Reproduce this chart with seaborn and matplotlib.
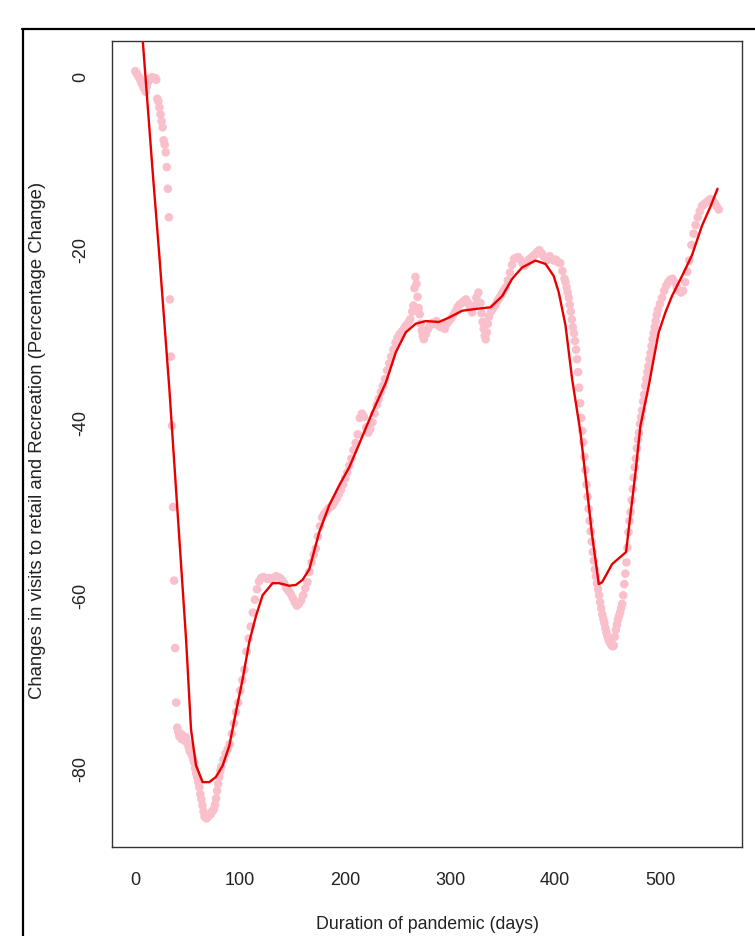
import matplotlib
matplotlib.use("Agg")
import matplotlib.pyplot as plt
from matplotlib.lines import Line2D
import seaborn as sns
import pandas as pd

# ---- observed daily points (day, percentage change) ----
days = [0, 1, 2, 3, 4, 5, 6, 7, 8, 9, 10, 11, 12, 13, 14, 15, 16, 17, 18, 19, 20,
        21, 22, 23, 24, 25, 26, 27, 28, 29, 30, 31, 32, 33, 34, 35, 36, 37, 38, 39,
        40, 41, 42, 43, 44, 45, 46, 47, 48, 49, 50, 51, 52, 53, 54, 55, 56, 57, 58, 59,
        60, 61, 62, 63, 64, 65, 66, 67, 68, 69, 70, 71, 72, 73, 74, 75, 76, 77, 78, 79,
        80, 81, 82, 84, 86, 88, 90, 92, 94, 96, 98, 100, 102, 104, 106, 108, 110, 112,
        114, 116, 118, 120, 122, 124, 126, 128, 130, 132, 134, 136, 138, 140, 142, 144,
        146, 148, 150, 152, 154, 156, 158, 160, 162, 164, 166, 168, 170, 172, 174, 176,
        178, 180, 182, 184, 186, 188, 190, 192, 194, 196, 198, 200, 202, 204, 206, 208,
        210, 212, 214, 216, 218, 220, 222, 224, 226, 228, 230, 232, 234, 236, 238, 240,
        242, 244, 246, 248, 250, 252, 254, 256, 258, 260, 262, 264, 265, 266, 267, 268,
        269, 270, 271, 272, 273, 274, 275, 277, 279, 281, 283, 285, 287, 289, 291, 293,
        295, 297, 299, 301, 303, 305, 307, 309, 311, 313, 315, 317, 319, 321, 323, 325,
        327, 329, 330, 331, 332, 333, 334, 335, 336, 337, 339, 341, 343, 345, 347, 349,
        351, 353, 355, 357, 359, 361, 363, 365, 367, 369, 371, 373, 375, 377, 379, 381,
        383, 385, 387, 389, 391, 393, 395, 397, 399, 401, 403, 405, 407, 409, 410, 411,
        412, 413, 414, 415, 416, 417, 418, 419, 420, 421, 422, 423, 424, 425, 426, 427,
        428, 429, 430, 431, 432, 433, 434, 435, 436, 437, 438, 439, 440, 441, 442, 443,
        444, 445, 446, 447, 448, 449, 450, 451, 452, 453, 454, 455, 456, 457, 458, 459,
        460, 461, 462, 463, 464, 465, 466, 467, 468, 469, 470, 471, 472, 473, 474, 475,
        476, 477, 478, 479, 480, 481, 482, 483, 484, 485, 486, 487, 488, 489, 490, 491,
        492, 493, 494, 495, 496, 497, 498, 500, 502, 504, 506, 508, 510, 512, 514, 516,
        518, 520, 522, 524, 526, 528, 530, 532, 534, 536, 538, 540, 542, 544, 546, 548,
        550, 552, 554, 556]
changes = [0.6, 0.4, 0.2, 0.0, -0.2, -0.5, -0.8, -1.0, -1.3, -1.5, -1.8, -1.2, -0.7, -0.4,
           -0.3, -0.2, -0.1, -0.2, -0.3, -0.2, -0.4,
           -2.6, -2.9, -3.6, -4.4, -5.2, -5.9, -7.4, -7.9, -8.8, -10.5, -13.0, -16.3, -25.8,
           -32.4, -40.4, -49.8, -58.3, -66.1, -72.4,
           -75.3, -75.8, -76.3, -76.0, -76.6, -76.2, -76.5, -76.8, -76.4, -76.9, -77.2, -77.6,
           -78.0, -78.2, -78.5, -78.9, -79.3, -80.0, -80.6, -81.0,
           -81.6, -82.2, -83.0, -83.6, -84.3, -85.0, -85.6, -85.7, -85.8, -85.6, -85.5, -85.4,
           -85.3, -85.0, -84.9, -84.7, -84.2, -83.5, -82.6, -81.8,
           -81.0, -80.3, -79.8, -79.0, -78.3, -77.8, -77.2, -76.0, -74.8, -73.5, -72.4, -71.0,
           -69.8, -68.6, -66.5, -65.0, -63.6, -62.0,
           -60.5, -59.3, -58.4, -58.0, -57.9, -58.0, -58.1, -58.0, -58.2, -58.0, -57.8, -57.9,
           -58.0, -58.3, -58.6, -59.2,
           -59.5, -59.8, -60.3, -60.8, -61.2, -61.0, -60.6, -60.0, -59.2, -58.5, -57.3, -56.2,
           -55.3, -54.6, -53.2, -52.0,
           -51.0, -50.6, -50.3, -50.0, -49.8, -49.6, -49.2, -48.8, -48.3, -47.8, -47.2, -46.5,
           -45.8, -45.0, -44.2, -43.2,
           -42.4, -41.4, -39.5, -39.0, -39.4, -40.6, -41.2, -40.8, -40.0, -39.0, -38.0, -37.3,
           -36.5, -35.8, -35.0, -34.0,
           -33.2, -32.4, -31.6, -30.8, -30.2, -29.8, -29.5, -29.2, -28.8, -28.5, -28.1, -27.2,
           -26.5, -24.5, -23.2, -24.0,
           -25.5, -26.8, -27.5, -28.6, -29.4, -30.0, -30.4, -29.8, -29.2, -28.8, -28.5, -28.6,
           -28.3, -28.8, -29.0, -28.8,
           -29.2, -28.6, -28.3, -28.0, -27.6, -27.2, -26.7, -26.4, -26.2, -26.0, -25.8, -26.2,
           -26.8, -27.3, -26.5, -25.6,
           -25.0, -26.2, -27.4, -28.4, -29.2, -30.0, -30.4, -29.6, -28.6, -27.8, -27.2, -26.8,
           -26.5, -26.0, -25.6, -25.2,
           -24.8, -24.4, -23.6, -22.7, -21.8, -21.1, -21.0, -20.9, -21.2, -21.6, -21.9, -21.6,
           -21.2, -21.0, -20.8, -20.6,
           -20.3, -20.1, -20.4, -20.8, -21.0, -21.2, -20.8, -21.1, -21.3, -21.2, -21.5, -21.6,
           -22.5, -23.4, -23.8, -24.4,
           -25.0, -25.6, -26.4, -27.2, -28.1, -29.0, -29.7, -30.6, -31.6, -32.7, -34.2, -36.0,
           -37.8, -39.5, -41.0, -42.3,
           -44.0, -45.5, -47.2, -48.6, -50.0, -51.4, -52.6, -53.8, -55.0, -56.0, -57.0, -57.8,
           -58.6, -59.3, -60.0, -60.8,
           -61.5, -62.2, -62.7, -63.2, -63.8, -64.3, -64.7, -65.1, -65.4, -65.6, -65.8, -65.9,
           -65.8, -64.8, -64.0, -63.4,
           -62.8, -62.4, -62.0, -61.5, -61.0, -60.0, -58.7, -57.5, -56.2, -54.5, -52.7, -51.4,
           -50.4, -49.0, -47.7, -46.4,
           -45.2, -44.2, -43.0, -42.0, -41.2, -40.2, -39.4, -38.6, -37.6, -36.8, -35.8, -35.0,
           -34.2, -33.5, -32.7, -32.0,
           -31.2, -30.4, -29.7, -29.0, -28.3, -27.6, -27.0, -26.3, -25.6, -24.8, -24.2, -23.8,
           -23.5, -23.4, -23.8, -24.4,
           -24.8, -25.0, -24.8, -23.8, -22.6, -21.3, -19.5, -18.2, -17.2, -16.3, -15.6, -15.0,
           -14.8, -14.6, -14.4, -14.2,
           -14.3, -14.6, -15.0, -15.4]

# ---- smoothed fit curve (day, fitted change) ----
fit_days = [0, 7, 16.6, 22.9, 32.5, 35.6, 42, 48.4, 53.1, 57.9, 64.2, 70.5, 76.9, 83.2,
            89.6, 95.9, 102.3, 108.6, 115, 121.3, 130.8, 137.2, 146.8, 153.1, 159.5,
            165.8, 175.3, 184.8, 194.3, 203.9, 213.4, 226.1, 238.8, 248.3, 257.8, 267.3,
            276.8, 289.4, 298.9, 311.6, 324.3, 338.6, 349.7, 359.2, 368.7, 381.4, 391,
            398.8, 403.6, 406.8, 410, 416.3, 424.3, 429, 435.4, 441.7, 444.9, 454.4,
            467.7, 470.3, 476.7, 481.4, 489.3, 494, 498.8, 505.2, 511.5, 521, 530.5,
            540, 548, 554.9]
fit_vals = [15.0, 4.3, -11.1, -20.7, -36.2, -41.9, -53.5, -65.1, -75.5, -79.7, -81.6,
            -81.6, -81.0, -79.7, -77.4, -73.5, -69.7, -65.4, -62.4, -60.0, -58.6, -58.6,
            -58.9, -58.8, -58.2, -57.0, -52.7, -49.6, -47.3, -45.2, -42.5, -38.8, -35.4,
            -31.9, -29.6, -28.6, -28.3, -28.4, -27.9, -27.1, -26.9, -26.7, -25.4, -23.4,
            -22.1, -21.3, -21.7, -23.1, -25.0, -26.9, -28.8, -35.0, -41.2, -46.2, -53.1,
            -58.7, -58.5, -56.4, -55.0, -52.3, -45.8, -40.4, -35.8, -32.7, -29.6, -27.3,
            -25.4, -23.1, -20.7, -17.3, -15.1, -13.0]

x_ticks = [0, 100, 200, 300, 400, 500]
y_ticks = [0, -20, -40, -60, -80]
x_title = "Duration of pandemic (days)"
y_title = "Changes in visits to retail and Recreation (Percentage Change)"

sns.set_style("white")
plt.rcParams["font.family"] = ["Liberation Sans", "DejaVu Sans"]

W, H = 755, 937
fig = plt.figure(figsize=(W / 100, H / 100), dpi=100)
ax = fig.add_axes([112 / W, 1 - 848 / H, (742 - 112) / W, (848 - 42) / H])

pts = pd.DataFrame({"day": days, "change": changes})
fit = pd.DataFrame({"day": fit_days, "change": fit_vals})

sns.scatterplot(data=pts, x="day", y="change", ax=ax, color="#F9BFCB",
                s=38, linewidth=0, edgecolor="none", zorder=2)
sns.lineplot(data=fit, x="day", y="change", ax=ax, color="#E80000",
             linewidth=1.7, estimator=None, sort=False, zorder=3)

ax.set_xlim(-22.2, 578.2)
ax.set_ylim(-89.1, 4.08)
ax.set_xticks(x_ticks)
ax.set_xticklabels([str(v) for v in x_ticks])
ax.set_yticks(y_ticks)
ax.set_yticklabels([str(v) for v in y_ticks], rotation=90, va="center")
ax.tick_params(axis="both", direction="out", length=7.2, width=1.0,
               color="#333333", labelsize=13, labelcolor="#222222")
ax.tick_params(axis="x", pad=10)
ax.tick_params(axis="y", pad=9)
ax.set_xlabel("")
ax.set_ylabel("")
for sp in ax.spines.values():
    sp.set_visible(True)
    sp.set_color("#333333")
    sp.set_linewidth(1.0)

fig.text(428 / W, 1 - 925 / H, x_title, ha="center", va="center",
         fontsize=12.8, color="#222222")
fig.text(38 / W, 1 - 440 / H, y_title, ha="center", va="center",
         rotation=90, fontsize=13.3, color="#222222")

# outer frame of the original screenshot
fig.add_artist(Line2D([22 / W, 1.0], [1 - 29.5 / H, 1 - 29.5 / H],
                      transform=fig.transFigure, color="black", linewidth=1.6))
fig.add_artist(Line2D([22.5 / W, 22.5 / W], [0, 1 - 29.5 / H],
                      transform=fig.transFigure, color="black", linewidth=1.6))

fig.savefig("out.png", dpi=100)
